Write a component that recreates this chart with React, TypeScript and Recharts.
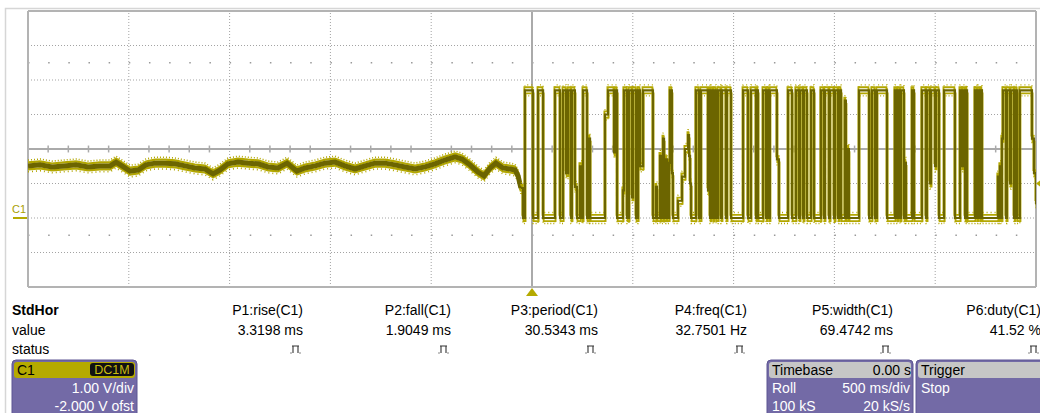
import { LineChart, Line, XAxis, YAxis, ReferenceLine, ReferenceDot } from "recharts"

// scope screen: 10 div x 500 ms, 8 div x 1 V (offset -2 V)
const gridTimes = [-2500, -2000, -1500, -1000, -500, 0, 500, 1000, 1500, 2000, 2500]
const gridVolts = [-2, -1, 0, 1, 2, 3, 4, 5, 6]

// idle part before the burst (ms, V)
const baseT = [-2500, -2440, -2381, -2321, -2262, -2202, -2143, -2093, -2063, -2034, -1994, -1954, -1915, -1870, -1820, -1771, -1721, -1672, -1622, -1582, -1548, -1508, -1458, -1409, -1359, -1309, -1260, -1215, -1166, -1126, -1076, -1027, -977, -928, -878, -828, -779, -729, -680, -630, -580, -531, -481, -432, -382, -347, -308, -268, -238, -208, -179, -144, -109, -84, -69, -55]
const baseV = [1.51, 1.54, 1.48, 1.51, 1.54, 1.48, 1.51, 1.51, 1.62, 1.51, 1.36, 1.39, 1.54, 1.59, 1.59, 1.57, 1.51, 1.45, 1.42, 1.28, 1.39, 1.57, 1.62, 1.59, 1.57, 1.48, 1.45, 1.59, 1.36, 1.45, 1.51, 1.59, 1.62, 1.51, 1.42, 1.51, 1.59, 1.59, 1.54, 1.48, 1.42, 1.48, 1.57, 1.68, 1.77, 1.71, 1.54, 1.33, 1.22, 1.45, 1.59, 1.45, 1.42, 1.39, 1.22, 0.87]

// burst: time of each level change (ms) and the new level (V)
const edgeT = [-45, -35, 5, 30, 55, 114, 139, 154, 169, 179, 193, 198, 213, 223, 238, 248, 253, 273, 283, 288,
  362, 377, 407, 412, 422, 451, 456, 471, 481, 496, 501, 516, 526, 536, 551, 600, 615, 620, 635, 640, 650, 655, 665, 670, 680, 684, 694, 699, 724, 744, 759, 774, 779, 784, 789,
  813, 828, 838, 873, 878, 883, 888, 898, 903, 913, 923, 937, 942, 962, 967, 987, 1047, 1071, 1086, 1111, 1116, 1121, 1146, 1161, 1166, 1176, 1180,
  1215, 1225, 1270, 1290, 1309, 1324, 1329, 1344, 1349, 1364, 1384, 1399, 1433, 1448, 1453, 1473, 1478, 1498, 1503, 1518, 1523, 1533, 1552, 1557, 1567, 1572, 1622,
  1672, 1686, 1701, 1711, 1761, 1800, 1810, 1815, 1825, 1830, 1845, 1850, 1855, 1885, 1895, 1934, 1954, 1959, 1974, 1979, 1999, 2004, 2019, 2044,
  2098, 2123, 2133, 2138, 2148, 2153, 2158, 2197, 2207, 2212, 2222, 2227, 2232, 2311, 2316, 2321, 2326, 2331, 2336, 2351, 2356, 2371, 2376, 2391, 2396, 2406, 2420, 2480, 2490, 2500]
const edgeV = [0, 3.7, 0, 3.7, 0, 3.7, 0, 3.7, 1.3, 3.7, 0, 3.7, 0.9, 0, 1.5, 0, 3.7, 0, 2.3, 0,
  3.0, 3.7, 1.9, 3.7, 0, 0.8, 3.7, 0, 3.7, 0.6, 3.7, 0, 3.7, 1.5, 3.7, 0, 0.9, 0, 1.8, 0, 2.3, 0, 1.7, 0, 1.6, 3.7, 1.3, 0, 0.5, 1.2, 2.0, 2.4, 1.8, 1.0, 0,
  3.7, 0, 3.7, 0.8, 3.7, 0, 3.7, 0, 3.7, 0, 3.7, 0, 3.7, 0, 3.7, 0, 3.7, 0, 3.7, 0, 3.7, 0, 3.7, 0, 3.7, 0, 3.7,
  1.7, 0, 3.7, 0, 3.7, 0, 3.7, 0, 3.7, 0, 3.7, 0, 3.7, 0, 3.7, 0, 3.7, 0, 3.7, 0, 3.7, 0, 3.4, 0, 2.0, 0, 3.7,
  0, 3.7, 0, 3.7, 0, 3.7, 0, 3.7, 0, 3.7, 0, 1.6, 0, 3.7, 0, 3.7, 0, 3.7, 1.0, 3.7, 1.5, 3.7, 0, 3.7,
  0, 3.7, 1.5, 3.7, 0, 3.7, 0, 3.7, 0, 3.7, 0, 3.7, 0, 1.2, 0, 1.5, 0, 2.3, 3.7, 0, 3.7, 1.0, 3.7, 0, 3.7, 0, 3.7, 2.3, 1.3, 0.4]

const paramNames = ["P1:rise(C1)", "P2:fall(C1)", "P3:period(C1)", "P4:freq(C1)", "P5:width(C1)", "P6:duty(C1)"]
const paramValues = ["3.3198 ms", "1.9049 ms", "30.5343 ms", "32.7501 Hz", "69.4742 ms", "41.52 %"]
const paramRight = [303, 451, 598, 747, 893, 1041]

const TRACE = "#b3a700"
const TRACE_DARK = "#6c6500"
const GRID = "#a3a3a3"
const PANEL = "#736aa6"
const FONT = '"Liberation Sans", Arial, sans-serif'

type Pt = { t: number; v: number }

const idle: Pt[] = baseT.map((t, i) => ({ t, v: baseV[i] }))

const burst: Pt[] = []
let level = baseV[baseV.length - 1]
burst.push({ t: baseT[baseT.length - 1], v: level })
edgeT.forEach((t, i) => {
  burst.push({ t, v: level })
  level = edgeV[i]
  burst.push({ t, v: level })
})

// persistence look: faint copies either side of the trace
const shift = (pts: Pt[], dt: number, dv: number) => pts.map(p => ({ t: p.t + dt, v: p.v + dv }))

// minor ticks every 0.2 div along the centre line
const minorT: number[] = []
gridTimes.slice(0, -1).forEach(g => [100, 200, 300, 400].forEach(d => minorT.push(g + d)))

const StatusIcon = ({ x, y }: { x: number; y: number }) => (
  <g fill="none" stroke="#333" strokeWidth={1.1}>
    <path d={`M${x - 9} ${y} v-7 h5 v7 M${x - 10} ${y - 7} h7`} />
    <path d={`M${x - 12} ${y} h2 M${x - 3} ${y} h2`} stroke="#888" />
  </g>
)

const Box = ({ x, w, title, titleRight, lines, head }: { x: number; w: number; title: string; titleRight?: string; lines: [string, string][]; head: string }) => (
  <g>
    <rect x={x} y={360} width={w} height={60} rx={4} fill={PANEL} stroke="#5d5592" strokeWidth={1} />
    <rect x={x + 2} y={362} width={w - 4} height={16} rx={3} fill={head} />
    <text x={x + 5} y={375} fontSize={14} fill="#000">{title}</text>
    {titleRight && <text x={x + w - 2} y={375} fontSize={14} fill="#000" textAnchor="end">{titleRight}</text>}
    {lines.map(([l, r], i) => (
      <g key={i}>
        <text x={x + 5} y={393 + i * 18} fontSize={14} fill="#fff">{l}</text>
        <text x={x + w - 3} y={393 + i * 18} fontSize={14} fill="#fff" textAnchor="end">{r}</text>
      </g>
    ))}
  </g>
)

export default function App() {
  return (
    <div style={{ position: "absolute", left: 0, top: 0, width: 1040, height: 413, background: "#fff", overflow: "hidden", fontFamily: FONT }}>
      <svg width={1040} height={413} style={{ position: "absolute", left: 0, top: 0 }} fontFamily={FONT}>
        <path d="M5.5 413 V8.5 H1040" fill="none" stroke="#d6d6d6" strokeWidth={1.5} />

        <text x={12} y={315} fontSize={14} fontWeight="bold" fill="#000">StdHor</text>
        <text x={12} y={335} fontSize={14} fill="#000">value</text>
        <text x={12} y={354} fontSize={14} fill="#000">status</text>
        {paramNames.map((n, i) => (
          <g key={n}>
            <text x={paramRight[i]} y={315} fontSize={14} fill="#000" textAnchor="end">{n}</text>
            <text x={paramRight[i]} y={335} fontSize={14} fill="#000" textAnchor="end">{paramValues[i]}</text>
            <StatusIcon x={paramRight[i] - 1} y={353} />
          </g>
        ))}

        <Box x={12} w={125} title="C1" head="#b5aa00" lines={[["", "1.00 V/div"], ["", "-2.000 V ofst"]]} />
        <rect x={90} y={363} width={44} height={13} rx={3} fill="#111" />
        <text x={112} y={374} fontSize={12.5} fill="#c9bd10" textAnchor="middle">DC1M</text>
        <Box x={767} w={146} title="Timebase" titleRight="0.00 s" head="#c6c6c6" lines={[["Roll", "500 ms/div"], ["100 kS", "20 kS/s"]]} />
        <Box x={916} w={130} title="Trigger" head="#c6c6c6" lines={[["Stop", ""]]} />
      </svg>

      <div style={{ position: "absolute", left: 0, top: 0 }}>
        <LineChart width={1040} height={300} margin={{ top: 11, right: 4, left: 28, bottom: 13 }}>
          <XAxis dataKey="t" type="number" domain={[-2500, 2500]} allowDataOverflow hide />
          <YAxis dataKey="v" type="number" domain={[-2, 6]} allowDataOverflow hide />

          {gridTimes.map(t => (
            <ReferenceLine key={"gx" + t} x={t} stroke={GRID} strokeDasharray="1 2" />
          ))}
          {gridVolts.map(v => (
            <ReferenceLine key={"gy" + v} y={v} stroke={GRID} strokeDasharray="1 2" />
          ))}
          <ReferenceLine y={4.5} stroke="#999" strokeWidth={1.5} strokeDasharray="1.5 18.66" />
          <ReferenceLine y={-0.5} stroke="#999" strokeWidth={1.5} strokeDasharray="1.5 18.66" />
          <ReferenceLine x={0} stroke="#aaa" strokeWidth={2} />
          <ReferenceLine y={2} stroke="#aaa" strokeWidth={2} />
          {minorT.map(t => (
            <ReferenceLine key={"m" + t} segment={[{ x: t, y: 1.9 }, { x: t, y: 2.1 }]} stroke="#aaa" strokeWidth={1.5} />
          ))}
          <ReferenceLine x={-2500} stroke="#b3b3b3" strokeWidth={2} />
          <ReferenceLine x={2500} stroke="#b3b3b3" strokeWidth={2} />
          <ReferenceLine y={6} stroke="#b3b3b3" strokeWidth={2} />
          <ReferenceLine y={-2} stroke="#b3b3b3" strokeWidth={2} />

          <Line data={shift(idle, 0, 0.17)} dataKey="v" stroke={TRACE} strokeWidth={1.6} strokeDasharray="1 2" dot={false} isAnimationActive={false} />
          <Line data={shift(idle, 0, -0.17)} dataKey="v" stroke={TRACE} strokeWidth={1.6} strokeDasharray="1 3" dot={false} isAnimationActive={false} />
          <Line data={shift(idle, 0, 0.1)} dataKey="v" stroke={TRACE} strokeWidth={2.2} dot={false} isAnimationActive={false} />
          <Line data={shift(idle, 0, -0.1)} dataKey="v" stroke={TRACE} strokeWidth={2.2} dot={false} isAnimationActive={false} />
          <Line data={idle} dataKey="v" stroke={TRACE_DARK} strokeWidth={5} dot={false} isAnimationActive={false} />

          <Line data={shift(burst, 0, 0.16)} dataKey="v" stroke={TRACE} strokeWidth={1.3} strokeDasharray="1 3" dot={false} isAnimationActive={false} />
          <Line data={shift(burst, 0, -0.16)} dataKey="v" stroke={TRACE} strokeWidth={1.3} strokeDasharray="1 2" dot={false} isAnimationActive={false} />
          <Line data={shift(burst, -3, 0.09)} dataKey="v" stroke={TRACE} strokeWidth={1.8} dot={false} isAnimationActive={false} />
          <Line data={shift(burst, 3, -0.09)} dataKey="v" stroke={TRACE} strokeWidth={1.8} dot={false} isAnimationActive={false} />
          <Line data={burst} dataKey="v" stroke={TRACE_DARK} strokeWidth={2.2} dot={false} isAnimationActive={false} />

          <ReferenceDot x={0} y={-2} ifOverflow="visible" shape={(p: any) => (
            <polygon points={`${p.cx},${p.cy + 1} ${p.cx - 6},${p.cy + 9} ${p.cx + 6},${p.cy + 9}`} fill="#b5aa00" />
          )} />
          <ReferenceDot x={2500} y={1} ifOverflow="visible" shape={(p: any) => (
            <polygon points={`${p.cx},${p.cy} ${p.cx + 4},${p.cy - 3} ${p.cx + 4},${p.cy + 3}`} fill="#b5aa00" />
          )} />
          <ReferenceDot x={-2500} y={0} ifOverflow="visible" shape={(p: any) => (
            <g>
              <text x={p.cx - 16} y={p.cy - 5} fontSize={11} fill="#a89e00" fontFamily={FONT}>C1</text>
              <line x1={p.cx - 15} x2={p.cx - 1} y1={p.cy} y2={p.cy} stroke="#b5aa00" strokeWidth={2} />
            </g>
          )} />
        </LineChart>
      </div>
    </div>
  )
}
